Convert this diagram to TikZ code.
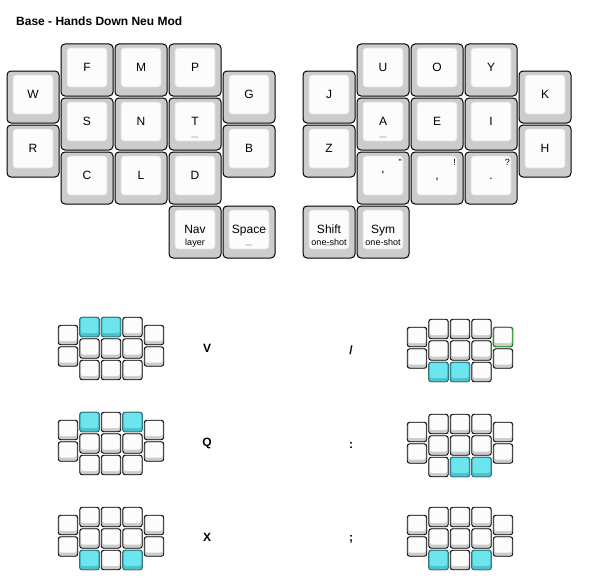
\documentclass[tikz,border=0pt]{standalone}
\usepackage{fontspec}
\setmainfont{Liberation Sans}[Ligatures=TeXOff]
\definecolor{keyside}{HTML}{CCCCCC}
\definecolor{keytop}{HTML}{FCFCFC}
\definecolor{facerim}{HTML}{DDDDDD}
\definecolor{hlface}{HTML}{6CE5EE}
\definecolor{hlside}{HTML}{4CC3CC}
\definecolor{hlrim}{HTML}{2A7D83}
\definecolor{ghost}{HTML}{008A00}
\definecolor{holdgray}{HTML}{A0A0A0}
\newcommand\mkey[4]{% name, cellx, celly, label
  \node[keybox] (#1) at (#2+27,#3+27) {};
  \node[keyface] (#1f) at (#2+27,#3+24.5) {};
  \node[lbl] (#1t) at (#2+27,#3+28.7) {#4};
}
\newcommand\tkey[5]{% name, cellx, celly, label, sublabel
  \node[keybox] (#1) at (#2+27,#3+27) {};
  \node[keyface] (#1f) at (#2+27,#3+24.5) {};
  \node[lbl] (#1t) at (#2+27,#3+28) {#4};
  \node[sublbl] (#1s) at (#2+27,#3+40.5) {#5};
}
\newcommand\holdmark[3]{\node[holdlbl] (#1h) at (#2+27,#3+38.5) {\_};}
\newcommand\shmark[4]{\node[shlbl] (#1u) at (#2+46,#3+14) {#4};}
\newcommand\minikey[5]{% boxstyle, facestyle, name, x, y
  \node[#1] (#3) at (#4+10,#5+10) {};
  \node[#2] (#3f) at (#4+10,#5+8.5) {};
}
\newcommand\minikb[3]{% prefix, x0, y0
  \foreach \c in {1,2,3}{\foreach \r in {0,1,2}{%
    \minikey{mbox}{mface}{#1\c\r}{#2+\c*21.5}{#3+\r*21.5}}}
  \foreach \c in {0,4}{\foreach \r in {0,1}{%
    \minikey{mbox}{mface}{#1\c\r}{#2+\c*21.5}{#3+8+\r*21.5}}}
}
\newcommand\hlkey[5]{\minikey{mboxhl}{mfacehl}{#1#4#5h}{#2+#4*21.5}{#3+#5*21.5}}
\begin{document}
\begin{tikzpicture}[x=1pt,y=-1pt,
  keybox/.style={draw=black, line width=1pt, fill=keyside, rounded corners=4pt,
    minimum width=52pt, minimum height=52pt, inner sep=0pt, outer sep=0pt},
  keyface/.style={draw=facerim, line width=0.6pt, fill=keytop, rounded corners=3pt,
    minimum width=40pt, minimum height=39pt, inner sep=0pt, outer sep=0pt},
  lbl/.style={font=\fontsize{12}{14}\selectfont, inner sep=0pt, anchor=base},
  sublbl/.style={font=\fontsize{9}{10}\selectfont, inner sep=0pt, anchor=base},
  shlbl/.style={font=\fontsize{9}{10}\selectfont, inner sep=0pt, anchor=base east},
  holdlbl/.style={font=\fontsize{12}{14}\selectfont, text=holdgray, inner sep=0pt, anchor=base},
  title/.style={font=\fontsize{12}{14}\selectfont\bfseries, inner sep=0pt, anchor=base west},
  combolbl/.style={font=\fontsize{12}{14}\selectfont\bfseries, inner sep=0pt, anchor=base},
  mbox/.style={draw=black, line width=0.9pt, fill=keyside, rounded corners=2.5pt,
    minimum width=19.5pt, minimum height=19.5pt, inner sep=0pt, outer sep=0pt},
  mface/.style={fill=keytop, rounded corners=2pt,
    minimum width=17pt, minimum height=15pt, inner sep=0pt, outer sep=0pt},
  mboxhl/.style={mbox, draw=hlrim, fill=hlside},
  mfacehl/.style={mface, fill=hlface},
  mboxghost/.style={mbox, draw=ghost},
]
\useasboundingbox (0,0) rectangle (610,578);
\fill[white] (0,0) rectangle (610,578);

\node[title] (ttl) at (16,25.5) {Base - Hands Down Neu Mod};

% ---- left half
\mkey{kW}{6}{70}{W}
\mkey{kR}{6}{124}{R}
\mkey{kF}{60}{43}{F}
\mkey{kS}{60}{97}{S}
\mkey{kC}{60}{151}{C}
\mkey{kM}{114}{43}{M}
\mkey{kN}{114}{97}{N}
\mkey{kL}{114}{151}{L}
\mkey{kP}{168}{43}{P}
\mkey{kT}{168}{97}{T}\holdmark{kT}{168}{97}
\mkey{kD}{168}{151}{D}
\mkey{kG}{222}{70}{G}
\mkey{kB}{222}{124}{B}
\tkey{kNav}{168}{205}{Nav}{layer}
\mkey{kSpace}{222}{205}{Space}\holdmark{kSpace}{222}{205}

% ---- right half
\mkey{kJ}{302}{70}{J}
\mkey{kZ}{302}{124}{Z}
\mkey{kU}{356}{43}{U}
\mkey{kA}{356}{97}{A}\holdmark{kA}{356}{97}
\mkey{kQt}{356}{151}{'}\shmark{kQt}{356}{151}{"}
\mkey{kO}{410}{43}{O}
\mkey{kE}{410}{97}{E}
\mkey{kCm}{410}{151}{,}\shmark{kCm}{410}{151}{!}
\mkey{kY}{464}{43}{Y}
\mkey{kI}{464}{97}{I}
\mkey{kDt}{464}{151}{.}\shmark{kDt}{464}{151}{?}
\mkey{kK}{518}{70}{K}
\mkey{kH}{518}{124}{H}
\tkey{kShift}{302}{205}{Shift}{one-shot}\holdmark{kShift}{302}{205}
\tkey{kSym}{356}{205}{Sym}{one-shot}

% ---- combos
\minikb{La}{58}{317}
\hlkey{La}{58}{317}{1}{0}\hlkey{La}{58}{317}{2}{0}
\node[combolbl] (cV) at (207,352) {V};

\minikb{Ra}{407}{319}
\minikey{mboxghost}{mface}{Ra40g}{407+4*21.5}{319+8}
\hlkey{Ra}{407}{319}{1}{2}\hlkey{Ra}{407}{319}{2}{2}
\node[combolbl] (cSl) at (351,354) {/};

\minikb{Lb}{58}{412}
\hlkey{Lb}{58}{412}{1}{0}\hlkey{Lb}{58}{412}{3}{0}
\node[combolbl] (cQ) at (207,446) {Q};

\minikb{Rb}{407}{414}
\hlkey{Rb}{407}{414}{2}{2}\hlkey{Rb}{407}{414}{3}{2}
\node[combolbl] (cCo) at (351,448.5) {:};

\minikb{Lc}{58}{507}
\hlkey{Lc}{58}{507}{1}{2}\hlkey{Lc}{58}{507}{3}{2}
\node[combolbl] (cX) at (207,541) {X};

\minikb{Rc}{407}{507}
\hlkey{Rc}{407}{507}{1}{2}\hlkey{Rc}{407}{507}{3}{2}
\node[combolbl] (cSc) at (351,541) {;};
\end{tikzpicture}
\end{document}
